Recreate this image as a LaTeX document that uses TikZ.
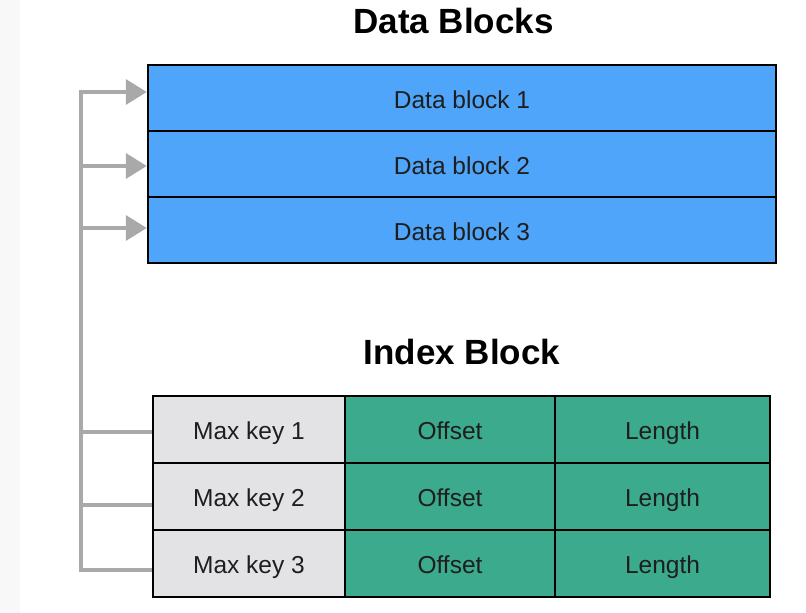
\documentclass[tikz,border=0pt]{standalone}
\usepackage{fontspec}
\setmainfont{Liberation Sans}
\usetikzlibrary{arrows.meta}
\definecolor{dblue}{HTML}{4EA5F9}
\definecolor{igreen}{HTML}{3BAA8D}
\definecolor{igray}{HTML}{E3E3E5}
\definecolor{linkgray}{HTML}{A9A9A9}
\definecolor{txt}{HTML}{1E1E1E}
\definecolor{strip}{HTML}{F8F8F8}
\tikzset{
  cellbox/.style={draw=black, line width=2.5pt, rectangle, inner sep=0pt,
    text=txt, font=\fontsize{24.5}{28}\selectfont, text height=21pt, text depth=1pt},
  dblock/.style={cellbox, fill=dblue, minimum width=628pt, minimum height=66pt},
  keycell/.style={cellbox, fill=igray, minimum width=192pt, minimum height=67pt},
  offcell/.style={cellbox, fill=igreen, minimum width=210pt, minimum height=67pt},
  lencell/.style={cellbox, fill=igreen, minimum width=215pt, minimum height=67pt},
  heading/.style={anchor=base, font=\fontsize{35}{40}\selectfont\bfseries, text=black},
  link/.style={draw=linkgray, line width=4pt},
  linkarrow/.style={link, -{Triangle[length=21pt,width=25pt]}}
}
\begin{document}
\begin{tikzpicture}[x=1pt,y=-1pt]
\useasboundingbox (0,0) rectangle (806,613);
\fill[strip] (0,0) rectangle (20,613);

\node[heading] (t1) at (453.5,33) {Data Blocks};
\node[heading] (t2) at (462,364) {Index Block};

\node[dblock] (d1) at (462,98) {Data block 1};
\node[dblock] (d2) at (462,164) {Data block 2};
\node[dblock] (d3) at (462,230) {Data block 3};

\node[keycell] (k1) at (249,429.5) {Max key 1};
\node[offcell] (o1) at (450,429.5) {Offset};
\node[lencell] (l1) at (662.5,429.5) {Length};
\node[keycell] (k2) at (249,496.5) {Max key 2};
\node[offcell] (o2) at (450,496.5) {Offset};
\node[lencell] (l2) at (662.5,496.5) {Length};
\node[keycell] (k3) at (249,563.5) {Max key 3};
\node[offcell] (o3) at (450,563.5) {Offset};
\node[lencell] (l3) at (662.5,563.5) {Length};

\coordinate (a1) at (81,92);
\coordinate (a2) at (81,166);
\coordinate (a3) at (81,228);
\coordinate (b1) at (81,432);
\coordinate (b2) at (81,505);
\coordinate (b3) at (81,570);

\draw[link, line cap=rect] (a1) -- (b3);
\draw[linkarrow] (a1) -- (a1 -| d1.west);
\draw[linkarrow] (a2) -- (a2 -| d2.west);
\draw[linkarrow] (a3) -- (a3 -| d3.west);
\draw[link] (b1) -- (b1 -| k1.west);
\draw[link] (b2) -- (b2 -| k2.west);
\draw[link] (b3) -- (b3 -| k3.west);
\end{tikzpicture}
\end{document}
